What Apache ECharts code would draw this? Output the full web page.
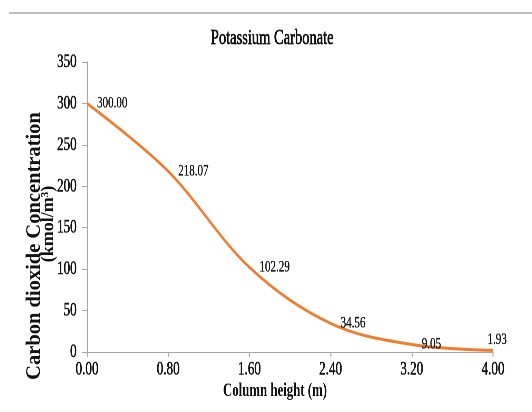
<!DOCTYPE html>
<html><head><meta charset="utf-8">
<script src="https://cdn.jsdelivr.net/npm/echarts@6/dist/echarts.min.js"></script>
<style>
html,body{margin:0;padding:0;background:#fff;overflow:hidden;width:532px;height:412px;}
#wrap{width:532px;height:412px;overflow:hidden;position:relative;}
#main{width:771px;height:412px;transform:scaleX(0.69);transform-origin:0 0;position:absolute;left:0;top:0;}
</style></head><body><div id="wrap"><div id="main"></div></div>
<script>
// horizontal squeeze of the whole drawing (text in the reference is narrow)
const SX = 0.69;

const chartTitle = 'Potassium Carbonate';
const xAxisTitle = 'Column height (m)';
const yAxisTitleLine1 = 'Carbon dioxide Concentration';
const yAxisTitleLine2 = '(kmol/m³)';

const columnHeight = [0.00, 0.80, 1.60, 2.40, 3.20, 4.00];
const co2Concentration = [300.00, 218.07, 102.29, 34.56, 9.05, 1.93];

const xMin = 0, xMax = 4.0, xInterval = 0.8;
const yMin = 0, yMax = 350, yInterval = 50;

const FONT = 'Liberation Serif';
const TXT = '#111111';
const AXIS = '#a6a6a6';
const LINE = '#ED7D31';

const lastIdx = columnHeight.length - 1;
const seriesData = columnHeight.map((x, i) => {
  const d = { value: [x, co2Concentration[i]] };
  if (i === lastIdx) {
    d.label = { position: 'top', distance: 2, offset: [6, 0] };
  }
  return d;
});

const chart = echarts.init(document.getElementById('main'), null, { renderer: 'canvas', devicePixelRatio: 2 });

const heavy = { textBorderColor: TXT, textBorderWidth: 0.5 };

const option = {
  animation: false,
  backgroundColor: '#ffffff',
  grid: {
    left: 87 / SX, right: 771 - 493 / SX, top: 62, bottom: 60,
    containLabel: false, outerBoundsMode: 'none'
  },
  xAxis: {
    type: 'value', min: xMin, max: xMax, interval: xInterval,
    axisLine: { show: true, lineStyle: { color: AXIS, width: 1 } },
    axisTick: { show: true, length: 5, lineStyle: { color: AXIS, width: 1.45 } },
    splitLine: { show: false },
    axisLabel: Object.assign({
      margin: 8, fontSize: 19, fontFamily: FONT, color: TXT,
      formatter: v => Number(v).toFixed(2)
    }, heavy)
  },
  yAxis: {
    type: 'value', min: yMin, max: yMax, interval: yInterval,
    axisLine: { show: true, lineStyle: { color: AXIS, width: 1.45 } },
    axisTick: { show: true, length: 7, lineStyle: { color: AXIS, width: 1 } },
    splitLine: { show: false },
    axisLabel: Object.assign({ margin: 15, fontSize: 19, fontFamily: FONT, color: TXT }, heavy)
  },
  series: [{
    type: 'line',
    data: seriesData,
    smooth: 0.35,
    showSymbol: true,
    symbol: 'circle',
    symbolSize: 1,
    itemStyle: { color: 'rgba(0,0,0,0)' },
    lineStyle: { color: LINE, width: 3 },
    label: {
      show: true, position: 'right', distance: 14,
      fontSize: 16, fontFamily: FONT, color: TXT,
      textBorderColor: TXT, textBorderWidth: 0.3,
      formatter: p => p.value[1].toFixed(2)
    },
    emphasis: { disabled: true },
    z: 3
  }],
  graphic: [
    { type: 'line', shape: { x1: 9 / SX, y1: 13, x2: 771, y2: 13 },
      style: { stroke: '#a8a8a8', lineWidth: 1.5 }, silent: true },
    { type: 'text', x: 272.2 / SX, y: 38.7,
      style: { text: chartTitle, font: 'normal 21px "' + FONT + '"', fill: TXT, stroke: TXT, lineWidth: 0.7,
        align: 'center', verticalAlign: 'middle' } },
    { type: 'text', x: 275 / SX, y: 391,
      style: { text: xAxisTitle, font: 'bold 18.6px "' + FONT + '"', fill: TXT, align: 'center', verticalAlign: 'middle' } },
    { type: 'text', x: 34.5 / SX, y: 246, rotation: Math.PI / 2, scaleX: 1, scaleY: 1 / SX,
      style: { text: yAxisTitleLine1, font: 'bold 20.5px "' + FONT + '"', fill: TXT, align: 'center', verticalAlign: 'middle' } },
    { type: 'text', x: 48.5 / SX, y: 224, rotation: Math.PI / 2, scaleX: 1, scaleY: 1 / SX,
      style: { text: yAxisTitleLine2, font: 'bold 18px "' + FONT + '"', fill: TXT, align: 'center', verticalAlign: 'middle' } }
  ]
};
chart.setOption(option);
</script></body></html>
